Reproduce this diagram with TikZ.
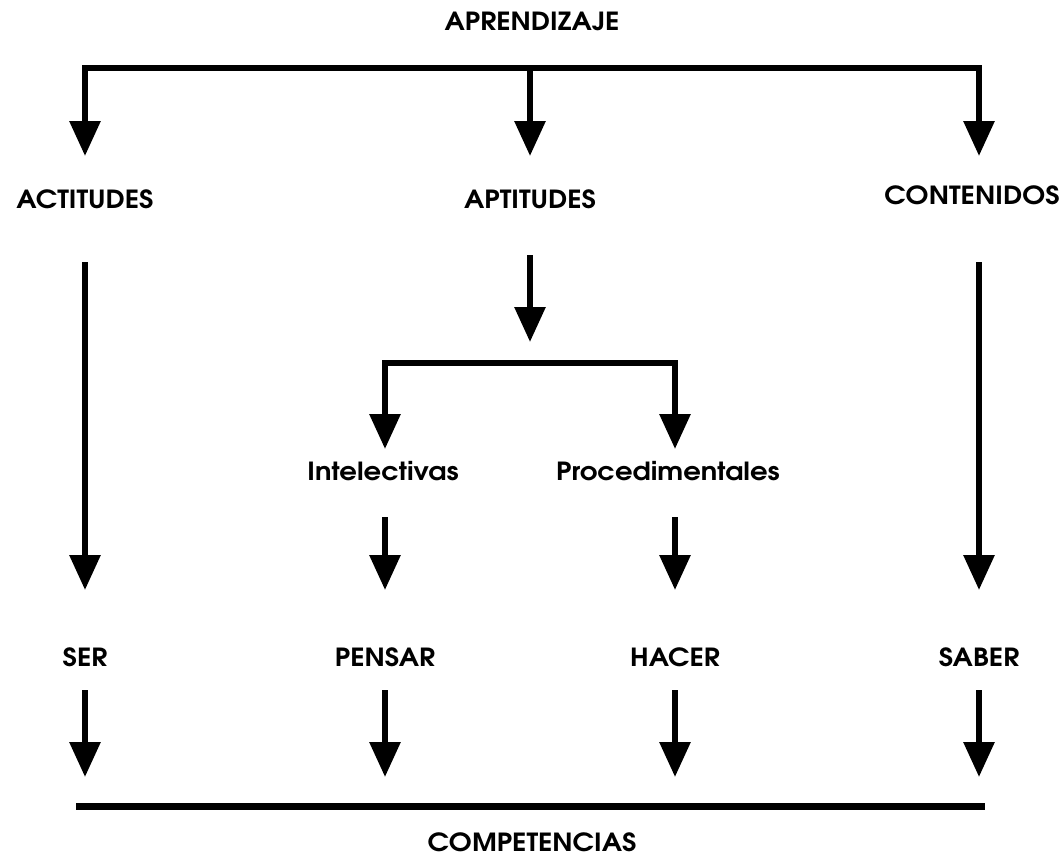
\documentclass[tikz,border=0pt]{standalone}
\usepackage{fontspec}
\setmainfont{texgyreadventor}[Extension=.otf, UprightFont=*-regular, BoldFont=*-bold, FakeStretch=1.1]
\usetikzlibrary{arrows.meta}
\tikzset{
  lbl/.style={font=\bfseries\fontsize{25}{29}\selectfont, inner sep=0pt, text height=18pt, text depth=0pt},
  bar/.style={line width=6pt, line cap=rect},
  arr/.style={line width=6pt, -{Triangle[length=35pt,width=30pt]}},
}
\begin{document}
\begin{tikzpicture}[x=1pt,y=-1pt]
	%%%%% START %%%%%
	\useasboundingbox (0,0) rectangle (1060,854);
	
	\node[lbl] (apr) at (532, 21) {APRENDIZAJE};
	\node[lbl] (act) at (85, 199) {ACTITUDES};
	\node[lbl] (apt) at (530, 199) {APTITUDES};
	\node[lbl] (cont) at (972, 195) {CONTENIDOS};
	\node[lbl] (intel) at (383, 471) {Intelectivas};
	\node[lbl] (proc) at (668, 471) {Procedimentales};
	\node[lbl] (ser) at (85, 657) {SER};
	\node[lbl] (pen) at (385, 657) {PENSAR};
	\node[lbl] (hac) at (675, 657) {HACER};
	\node[lbl] (sab) at (979, 657) {SABER};
	\node[lbl] (comp) at (532, 842) {COMPETENCIAS};
	
	% top bar
	\coordinate (tl) at (85, 68);
	\coordinate (tm) at (530, 68);
	\coordinate (tr) at (979, 68);
	\draw[bar] (tl) -- (tr);
	\draw[arr, shorten >=43pt] (tl) -- (act.center);
	\draw[arr, shorten >=43pt] (tm) -- (apt.center);
	\draw[arr, shorten >=39pt] (tr) -- (sab.center |- cont.center);
	
	% aptitudes branch
	\coordinate (bl) at (385, 363);
	\coordinate (bm) at (530, 363);
	\coordinate (br) at (675, 363);
	\draw[arr, shorten <=56pt, shorten >=21pt] (apt.center) -- (bm);
	\draw[bar] (bl) -- (br);
	\draw[arr, shorten >=22pt] (bl) -- (bl |- intel.center);
	\draw[arr, shorten >=22pt] (br) -- (br |- proc.center);
	
	% middle row
	\draw[arr, shorten <=63pt, shorten >=67pt] (act.center) -- (ser.center);
	\draw[arr, shorten <=46pt, shorten >=67pt] (pen.center |- intel.center) -- (pen.center);
	\draw[arr, shorten <=46pt, shorten >=67pt] (hac.center |- proc.center) -- (hac.center);
	\draw[arr, shorten <=67pt, shorten >=67pt] (sab.center |- cont.center) -- (sab.center);
	
	% bottom line
	\coordinate (ll) at (76, 806);
	\coordinate (lr) at (985, 806);
	\draw[line width=7pt] (ll) -- (lr);
	\draw[arr, shorten <=33pt, shorten >=29pt] (ser.center) -- (ser.center |- ll);
	\draw[arr, shorten <=33pt, shorten >=29pt] (pen.center) -- (pen.center |- ll);
	\draw[arr, shorten <=33pt, shorten >=29pt] (hac.center) -- (hac.center |- ll);
	\draw[arr, shorten <=33pt, shorten >=29pt] (sab.center) -- (sab.center |- ll);
	%%%%% END %%%%%
\end{tikzpicture}
\end{document}
